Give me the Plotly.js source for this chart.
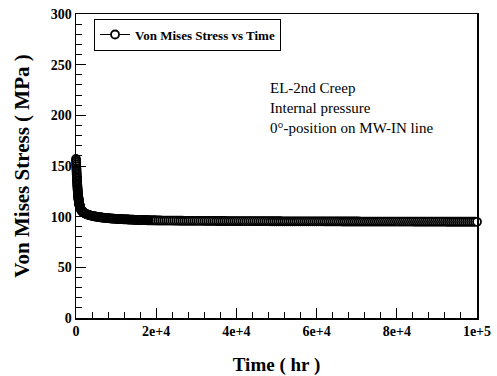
<!DOCTYPE html>
<html>
<head>
<meta charset="utf-8">
<script src="https://cdn.plot.ly/plotly-3.0.1.min.js"></script>
<style>html,body{margin:0;padding:0;background:#fff;}#chart{width:497px;height:376px;}</style>
</head>
<body>
<div id="chart"></div>
<script>
// Time (hr)
var timeHr = [0,20,40,60,80,100,120,140,160,180,200,220,240,260,280,300,320,340,360,380,400,
420,440,460,480,500,520,540,560,580,600,620,640,660,680,700,720,740,760,780,800,
820,840,860,880,900,920,940,960,980,1000,
1100,1200,1300,1400,1500,1600,1700,1800,1900,2000,
2250,2500,2750,3000,3250,3500,3750,4000,4250,4500,4750,5000,
5250,5500,5750,6000,6250,6500,6750,7000,7250,7500,7750,8000,8250,8500,8750,9000,9250,9500,9750,10000,
10250,10500,10750,11000,11250,11500,11750,12000,12250,12500,
12750,13000,13250,13500,13750,14000,14250,14500,14750,15000,
15250,15500,15750,16000,16250,16500,16750,17000,17250,17500,
17750,18000,18250,18500,18750,19000,19250,19500,19750,20000,
20500,21000,21500,22000,22500,23000,23500,24000,24500,25000,
25500,26000,26500,27000,27500,28000,28500,29000,29500,30000,
30500,31000,31500,32000,32500,33000,33500,34000,34500,35000,
35500,36000,36500,37000,37500,38000,38500,39000,39500,40000,
40500,41000,41500,42000,42500,43000,43500,44000,44500,45000,
45500,46000,46500,47000,47500,48000,48500,49000,49500,50000,
50500,51000,51500,52000,52500,53000,53500,54000,54500,55000,
55500,56000,56500,57000,57500,58000,58500,59000,59500,60000,
60500,61000,61500,62000,62500,63000,63500,64000,64500,65000,
65500,66000,66500,67000,67500,68000,68500,69000,69500,70000,
70500,71000,71500,72000,72500,73000,73500,74000,74500,75000,
75500,76000,76500,77000,77500,78000,78500,79000,79500,80000,
80500,81000,81500,82000,82500,83000,83500,84000,84500,85000,
85500,86000,86500,87000,87500,88000,88500,89000,89500,90000,
90500,91000,91500,92000,92500,93000,93500,94000,94500,95000,
95500,96000,96500,97000,97500,98000,98500,99000,99500,100000];
// Von Mises stress (MPa)
var stressMPa = [157,155.2,153.4,151.6,149.8,148,146.4,144.8,143.2,141.6,140,138.6,137.2,135.8,134.4,133,131.8,130.6,129.4,128.2,127,
126,125,124,123,122,121.2,120.4,119.6,119.0,118.5,117.9,117.3,116.7,116.1,115.5,115.0,114.5,114.0,113.5,113.0,
112.6,112.2,111.8,111.4,111.0,110.7,110.4,110.1,109.8,109.5,
108.4,107.4,106.6,106.0,105.5,105.1,104.7,104.4,104.1,103.8,
103.2,102.7,102.3,101.9,101.6,101.3,101.0,100.8,100.6,100.4,100.2,100.0,
99.85,99.7,99.55,99.4,99.25,99.1,99.0,98.9,98.8,98.7,98.6,98.5,98.4,98.3,98.2,98.1,98.05,98.0,97.9,97.8,
97.75,97.7,97.65,97.6,97.55,97.5,97.45,97.4,97.35,97.3,
97.25,97.2,97.15,97.1,97.05,97.0,96.95,96.9,96.85,96.8,
96.78,96.75,96.72,96.7,96.65,96.6,96.58,96.55,96.52,96.5,
96.47,96.45,96.42,96.4,96.37,96.35,96.32,96.3,96.27,96.25,
96.22,96.2,96.18,96.15,96.13,96.1,96.08,96.06,96.04,96.02,
96.0,95.98,95.96,95.94,95.93,95.91,95.9,95.88,95.87,95.85,
95.84,95.83,95.82,95.8,95.79,95.78,95.77,95.76,95.75,95.74,
95.73,95.72,95.71,95.7,95.69,95.68,95.67,95.66,95.65,95.64,
95.63,95.62,95.61,95.6,95.6,95.59,95.58,95.57,95.56,95.56,
95.55,95.54,95.53,95.52,95.52,95.51,95.5,95.49,95.48,95.48,
95.47,95.46,95.45,95.45,95.44,95.43,95.42,95.42,95.41,95.4,
95.4,95.39,95.38,95.38,95.37,95.36,95.36,95.35,95.34,95.34,
95.33,95.32,95.32,95.31,95.3,95.3,95.29,95.28,95.28,95.27,
95.27,95.26,95.25,95.25,95.24,95.24,95.23,95.22,95.22,95.21,
95.21,95.2,95.2,95.19,95.18,95.18,95.17,95.17,95.16,95.16,
95.15,95.15,95.14,95.14,95.13,95.13,95.12,95.12,95.11,95.11,
95.1,95.1,95.09,95.09,95.08,95.08,95.07,95.07,95.06,95.06,
95.05,95.05,95.05,95.04,95.04,95.03,95.03,95.03,95.02,95.02,
95.02,95.01,95.01,95.01,95.0,95.0,95.0,94.99,94.99,94.99,
94.98,94.98,94.98,94.97,94.97,94.97,94.96,94.96,94.96,94.95];
var xTickVals = [0,20000,40000,60000,80000,100000];
var xTickText = ['0','2e+4','4e+4','6e+4','8e+4','1e+5'];
var yTickVals = [0,50,100,150,200,250,300];
var yTickText = ['0','50','100','150','200','250','300'];
var seriesName = 'Von Mises Stress vs Time';
var noteLines = ['EL-2nd Creep','Internal pressure','0°-position on MW-IN line'];

var serif = 'Liberation Serif, Times New Roman, serif';
var trace = {
  x: timeHr, y: stressMPa, type: 'scatter', mode: 'lines+markers', name: seriesName,
  line: {color: '#000', width: 1},
  marker: {symbol: 'circle', size: 8, color: '#fff', line: {color: '#000', width: 1.8}},
  cliponaxis: false
};
var noteY = [0.757, 0.691, 0.625];
var annotations = noteLines.map(function(t, i){
  return {text: t, xref: 'paper', yref: 'paper', x: 0.479, y: noteY[i], xanchor: 'left', yanchor: 'middle',
    showarrow: false, font: {family: serif, size: 15, color: '#000'}};
});
var layout = {
  width: 497, height: 376,
  margin: {l: 76, r: 20, t: 14, b: 58},
  paper_bgcolor: '#fff', plot_bgcolor: '#fff',
  showlegend: true,
  legend: {x: 0.045, y: 0.985, xanchor: 'left', yanchor: 'top', bordercolor: '#000', borderwidth: 1, bgcolor: '#fff',
    font: {family: serif, size: 13, color: '#000', weight: 'bold'}},
  xaxis: {range: [0, 100000], tickvals: xTickVals, ticktext: xTickText, ticks: 'inside', ticklen: 10, tickwidth: 1, tickcolor: '#000',
    minor: {dtick: 4000, tick0: 0, ticks: 'inside', ticklen: 6, tickcolor: '#000', tickwidth: 1, showgrid: false},
    showline: true, linecolor: '#000', linewidth: 1.5, mirror: true, showgrid: false, zeroline: false,
    tickfont: {family: serif, size: 14, color: '#000', weight: 'bold'},
    title: {text: 'Time ( hr )', font: {family: serif, size: 19, color: '#000', weight: 'bold'}, standoff: 20}},
  yaxis: {range: [0, 300], tickvals: yTickVals, ticktext: yTickText, ticks: 'inside', ticklen: 10, tickwidth: 1, tickcolor: '#000',
    minor: {dtick: 10, tick0: 0, ticks: 'inside', ticklen: 6, tickcolor: '#000', tickwidth: 1, showgrid: false},
    showline: true, linecolor: '#000', linewidth: 1.5, mirror: true, showgrid: false, zeroline: false,
    tickfont: {family: serif, size: 14, color: '#000', weight: 'bold'},
    title: {text: 'Von Mises Stress ( MPa )', font: {family: serif, size: 21, color: '#000', weight: 'bold'}, standoff: 15}},
  annotations: annotations
};
Plotly.newPlot('chart', [trace], layout, {displayModeBar: false, staticPlot: true});
</script>
</body>
</html>
